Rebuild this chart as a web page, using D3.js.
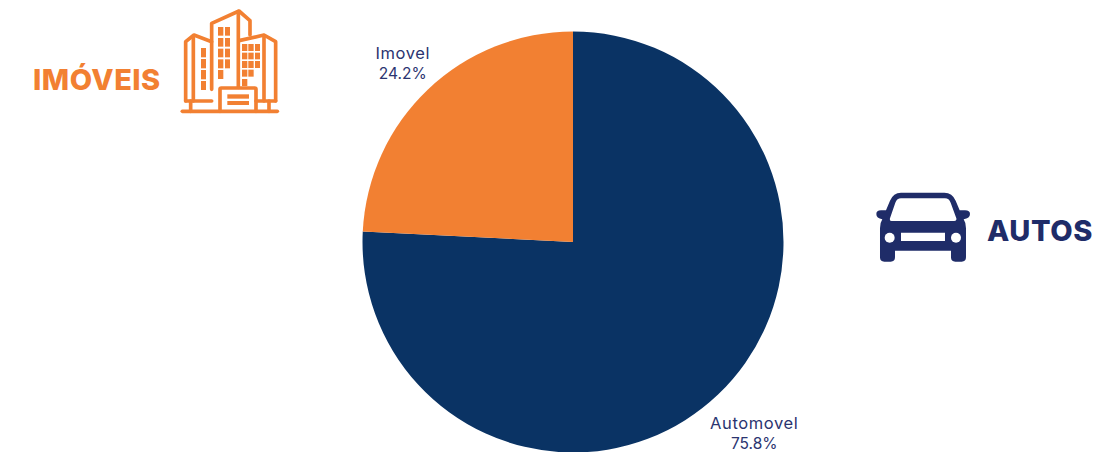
<!DOCTYPE html>
<html>
<head>
<meta charset="utf-8">
<script src="https://cdn.jsdelivr.net/npm/d3@7"></script>
<style>
    html, body { margin: 0; padding: 0; background: #fff; }
    svg { display: block; }
    text { font-family: "Inter", "Open Sans", sans-serif; }
</style>
</head>
<body>
<div id="chart"></div>
<script>
    var categories = ['Automovel', 'Imovel'];
    var shares = [75.8, 24.2];
    var sliceColors = ['#0a3364', '#f28032'];

    var orange = '#f28032',
        navy = '#1f2c68',
        labelColor = '#2b3470';

    var width = 1120,
        height = 452,
        radius = 210.5,
        cx = 573,
        cy = 242;

    var svg = d3.select('#chart').append('svg')
        .attr('width', width)
        .attr('height', height);

    var pie = d3.pie().sort(null).value(function (d) { return d; });
    var arc = d3.arc().innerRadius(0).outerRadius(radius);
    var arcs = pie(shares);

    var g = svg.append('g').attr('transform', 'translate(' + cx + ',' + cy + ')');

    g.selectAll('path')
        .data(arcs)
        .enter().append('path')
        .attr('d', arc)
        .style('fill', function (d, i) { return sliceColors[i]; });

    // labels sit outside the slice, the bottom one a little further out
    var labels = g.selectAll('g.label')
        .data(arcs)
        .enter().append('g')
        .attr('class', 'label')
        .attr('transform', function (d, i) {
            var r = i === 0 ? 263 : 247;
            var a = (d.startAngle + d.endAngle) / 2;
            return 'translate(' + (Math.sin(a) * r) + ',' + (-Math.cos(a) * r) + ')';
        })
        .style('fill', labelColor)
        .attr('text-anchor', 'middle');

    labels.append('text')
        .attr('y', -4)
        .style('font-size', '16.5px')
        .style('letter-spacing', '0.6px')
        .text(function (d, i) { return categories[i]; });

    labels.append('text')
        .attr('y', 16)
        .style('font-size', '15.5px')
        .text(function (d) { return d3.format('.1f')(d.value) + '%'; });

    // side titles
    svg.append('text')
        .attr('x', 33)
        .attr('y', 90)
        .style('font-size', '29px')
        .style('font-weight', 800)
        .style('letter-spacing', '0.5px')
        .style('fill', orange)
        .text('IMÓVEIS');

    svg.append('text')
        .attr('x', 987)
        .attr('y', 241)
        .style('font-size', '29px')
        .style('font-weight', 800)
        .style('letter-spacing', '0.6px')
        .style('fill', navy)
        .text('AUTOS');

    // building icon, drawn in 3x units
    var building = svg.append('g')
        .attr('transform', 'translate(170,0) scale(0.3333)');

    var buildingLines = [
        'M37,334 H322',
        'M47,303 V125 L72,105 L125,125',
        'M70,108 V303',
        'M125,268 V70 L207,33 L240,62 V105',
        'M205,35 V262',
        'M207,122 L282,105 L317,125 V303',
        'M282,107 V303',
        'M47,303 H125',
        'M258,303 H317',
        'M62,303 V334',
        'M297,303 V334',
        'M150,334 V268 Q150,264 154,264 H254 Q258,264 258,268 V334'
    ];

    building.selectAll('path')
        .data(buildingLines)
        .enter().append('path')
        .attr('d', function (d) { return d; })
        .style('fill', 'none')
        .style('stroke', orange)
        .style('stroke-width', 11)
        .style('stroke-linecap', 'round')
        .style('stroke-linejoin', 'round');

    var windows = [
        [93, 144, 15, 28], [93, 177, 15, 28], [93, 210, 15, 28], [93, 243, 15, 27],
        [144, 81, 16, 26], [165, 81, 15, 26], [144, 114, 16, 26], [165, 114, 15, 26],
        [144, 146, 16, 26], [165, 146, 15, 26], [144, 178, 16, 27], [165, 178, 15, 27],
        [144, 210, 16, 27],
        [216, 132, 16, 21], [235, 132, 16, 21], [255, 132, 15, 21],
        [216, 158, 16, 20], [235, 158, 16, 20], [255, 158, 15, 20],
        [216, 183, 16, 21], [235, 183, 16, 21], [255, 183, 15, 21],
        [216, 209, 16, 21], [235, 209, 16, 21],
        [216, 237, 16, 21],
        [172, 283, 65, 13], [172, 303, 65, 12]
    ];

    building.selectAll('rect')
        .data(windows)
        .enter().append('rect')
        .attr('x', function (d) { return d[0]; })
        .attr('y', function (d) { return d[1]; })
        .attr('width', function (d) { return d[2]; })
        .attr('height', function (d) { return d[3]; })
        .style('fill', orange);

    // car icon, drawn in 3x units
    var car = svg.append('g')
        .attr('transform', 'translate(865,180) scale(0.3333)');

    car.append('path')
        .attr('fill-rule', 'evenodd')
        .style('fill', navy)
        .attr('d',
            'M108,38 H238 Q262,38 272,62 L284,91 H300 Q315,91 315,102 Q315,115 296,118 ' +
            'Q303,128 303,145 V232 Q303,245 290,245 H271 Q258,245 258,232 V212 H90 V232 ' +
            'Q90,245 77,245 H58 Q45,245 45,232 V145 Q45,128 52,118 Q34,115 34,102 Q34,91 48,91 ' +
            'H63 L75,62 Q85,38 108,38 Z ' +
            'M108,55 Q96,55 91,68 L75,115 Q73,123 80,123 H268 Q276,123 274,115 L257,68 ' +
            'Q252,55 240,55 Z ' +
            'M108,158 V183 H240 V158 Z');

    car.selectAll('circle')
        .data([74, 273])
        .enter().append('circle')
        .attr('cx', function (d) { return d; })
        .attr('cy', 173)
        .attr('r', 15)
        .style('fill', '#fff');
</script>
</body>
</html>
